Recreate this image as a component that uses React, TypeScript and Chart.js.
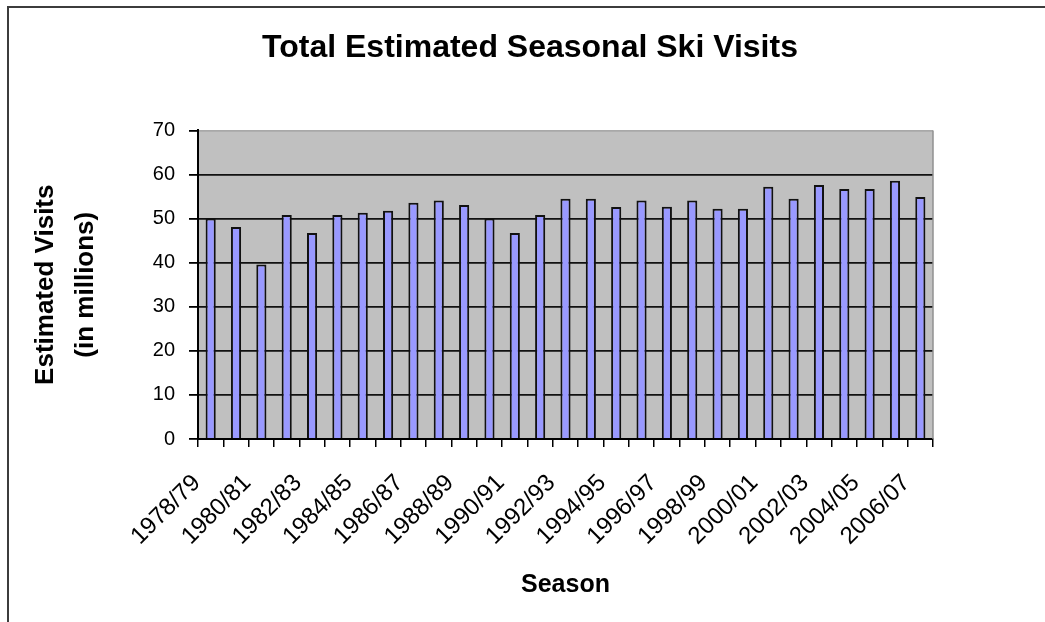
import React, { useEffect, useRef } from 'react';
import { Chart, registerables } from 'chart.js';

Chart.register(...registerables);

const seasons = [
  '1978/79', '1979/80', '1980/81', '1981/82', '1982/83', '1983/84', '1984/85',
  '1985/86', '1986/87', '1987/88', '1988/89', '1989/90', '1990/91', '1991/92',
  '1992/93', '1993/94', '1994/95', '1995/96', '1996/97', '1997/98', '1998/99',
  '1999/00', '2000/01', '2001/02', '2002/03', '2003/04', '2004/05', '2005/06',
  '2006/07',
];

const visits = [
  50.0, 48.1, 39.6, 50.8, 46.7, 50.8, 51.3,
  51.8, 53.6, 54.1, 53.1, 50.0, 46.7, 50.8,
  54.5, 54.5, 52.6, 54.1, 52.7, 54.1, 52.2,
  52.2, 57.2, 54.5, 57.6, 56.7, 56.7, 58.6,
  54.9,
];

const yMin = 0;
const yMax = 70;
const yStep = 10;

const chartTitle = 'Total Estimated Seasonal Ski Visits';
const yTitle = ['Estimated Visits', '(in millions)'];
const xTitle = 'Season';

const FONT = '"Liberation Sans", Arial, sans-serif';

const framePlugin = {
  id: 'frame',
  beforeDraw(chart: any) {
    const { ctx, chartArea: a } = chart;
    ctx.save();
    ctx.fillStyle = '#ffffff';
    ctx.fillRect(0, 0, chart.width, chart.height);
    ctx.fillStyle = '#c0c0c0';
    ctx.fillRect(a.left, a.top, a.right - a.left, a.bottom - a.top);
    ctx.restore();
  },
  afterDraw(chart: any) {
    const { ctx, chartArea: a } = chart;
    ctx.save();
    ctx.strokeStyle = '#909090';
    ctx.lineWidth = 1.5;
    ctx.beginPath();
    ctx.moveTo(a.right, a.top);
    ctx.lineTo(a.right, a.bottom);
    ctx.stroke();
    ctx.strokeStyle = '#3c3c3c';
    ctx.lineWidth = 2;
    ctx.beginPath();
    ctx.moveTo(8, chart.height);
    ctx.lineTo(8, 7);
    ctx.lineTo(chart.width, 7);
    ctx.stroke();
    ctx.restore();
  },
};

export default function App() {
  const ref = useRef<HTMLCanvasElement | null>(null);

  useEffect(() => {
    if (!ref.current) return;
    const chart = new Chart(ref.current, {
      type: 'bar',
      data: {
        labels: seasons,
        datasets: [
          {
            data: visits,
            backgroundColor: '#9999ff',
            borderColor: '#111111',
            borderWidth: 2,
            barPercentage: 0.4,
            categoryPercentage: 1.0,
            yAxisID: 'y',
          },
        ],
      },
      options: {
        responsive: false,
        animation: false,
        devicePixelRatio: 1,
        layout: { padding: { left: 15, right: 0, top: 0, bottom: 0 } },
        plugins: {
          legend: { display: false },
          tooltip: { enabled: false },
          title: {
            display: true,
            text: chartTitle,
            color: '#000',
            font: { family: FONT, size: 32, weight: 'bold' },
            padding: { top: 29, bottom: 63 },
          },
        },
        scales: {
          x: {
            offset: true,
            afterFit: (s: any) => { s.height = 183; },
            grid: {
              offset: true,
              drawOnChartArea: false,
              drawTicks: true,
              tickLength: 8,
              color: '#000',
              lineWidth: 1.5,
            },
            border: { color: '#000', width: 2 },
            ticks: {
              autoSkip: false,
              minRotation: 45,
              maxRotation: 45,
              padding: 22,
              labelOffset: -14,
              color: '#000',
              font: { family: FONT, size: 24 },
              callback: (_v: any, i: number) => (i % 2 === 0 ? seasons[i] : ''),
            },
            title: {
              display: true,
              text: xTitle,
              color: '#000',
              font: { family: FONT, size: 25, weight: 'bold' },
              padding: { top: 0, bottom: 22 },
            },
          },
          y: {
            min: yMin,
            max: yMax,
            afterFit: (s: any) => { s.width = 183; },
            ticks: {
              stepSize: yStep,
              padding: 14,
              color: '#000',
              font: { family: FONT, size: 20 },
            },
            grid: {
              color: (c: any) => (c.tick && c.tick.value === yMax ? '#a8a8a8' : '#111'),
              tickColor: '#000',
              lineWidth: 1.8,
              tickLength: 9,
            },
            border: { color: '#000', width: 2 },
            title: {
              display: true,
              text: yTitle,
              color: '#000',
              font: { family: FONT, size: 26, weight: 'bold', lineHeight: 1.54 },
              padding: { top: 11, bottom: 0 },
            },
          },
          yRightSpace: {
            type: 'linear',
            position: 'right',
            display: true,
            afterFit: (s: any) => { s.width = 112; },
            ticks: { display: false },
            grid: { display: false, drawOnChartArea: false },
            border: { display: false },
          },
        },
      },
      plugins: [framePlugin],
    } as any);
    return () => chart.destroy();
  }, []);

  return (
    <div style={{ position: 'fixed', left: 0, top: 0, width: 1045, height: 622, background: '#fff' }}>
      <canvas ref={ref} width={1045} height={622} style={{ display: 'block' }} />
    </div>
  );
}
